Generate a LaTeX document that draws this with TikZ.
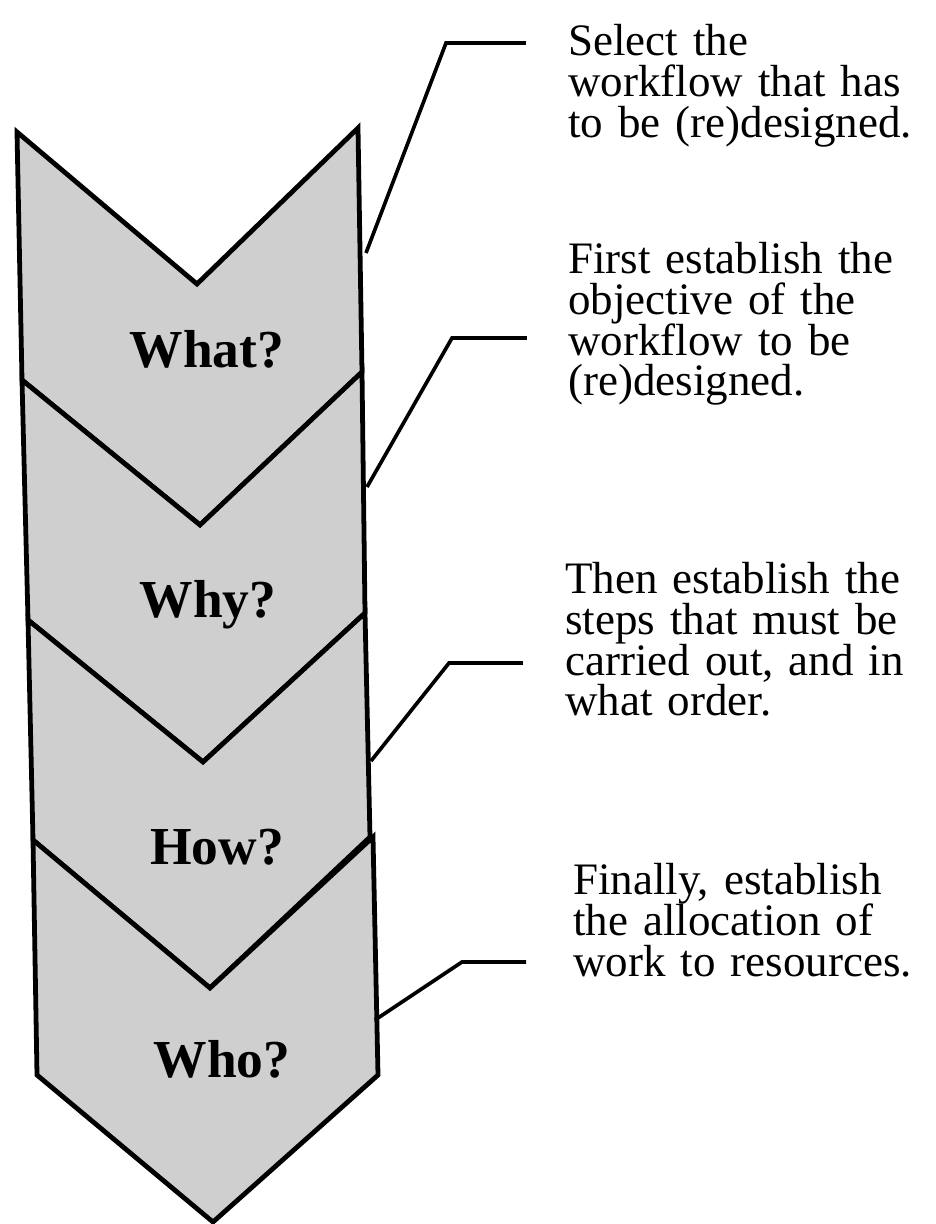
\documentclass[tikz,border=0pt]{standalone}
\usepackage{fontspec}
\setmainfont{Liberation Serif}
\newfontfamily\askfont{Liberation Serif}
\definecolor{ChevGray}{HTML}{CFCFCF}
\newcommand{\spreadline}[1]{\makebox[8.65cm][s]{#1}}
\newcommand{\tightlines}{\lineskiplimit=-100pt\relax}
\tikzset{
  % chevron body
  chev/.style={fill=ChevGray,draw=black,line width=3.4pt,line join=miter},
  % bold question inside a chevron
  ask/.style={font=\askfont\fontsize{38}{40}\selectfont\bfseries,anchor=base,inner sep=0pt},
  % explanation on the right
  note/.style={font=\fontsize{32}{29}\selectfont\tightlines,align=left,
               text width=9.2cm,anchor=north west,inner sep=0pt},
  % leader line
  lead/.style={line width=2.6pt,line join=miter}
}

\begin{document}
\begin{tikzpicture}[x=0.025cm,y=-0.025cm]
  \useasboundingbox (0,0) rectangle (935,1224);

  % chevrons, top to bottom
  \filldraw[chev] (17,132) -- (197,284) -- (358,128) -- (362,372) -- (200,525) -- (22,380) -- cycle;
  \filldraw[chev] (22,380) -- (200,525) -- (362,372) -- (365,613) -- (203,762) -- (28,620) -- cycle;
  \filldraw[chev] (28,620) -- (203,762) -- (365,613) -- (370,837) -- (210,988) -- (33,840) -- cycle;
  \filldraw[chev] (33,840) -- (210,988) -- (373,837) -- (378,1075) -- (213,1222) -- (37,1075) -- cycle;

  \node[ask] (what) at (207,367) {What?};
  \node[ask] (why)  at (208,617) {Why?};
  \node[ask] (how)  at (217,864) {How?};
  \node[ask] (who)  at (222,1077) {Who?};

  % explanations
  \node[note] (selTxt) at (568,24) {Select the\\ workflow that has\\ to be (re)designed.};
  \node[note] (objTxt) at (568,242) {First establish the\\ objective of the\\ workflow to be\\ (re)designed.};
  \node[note] (stpTxt) at (565,562) {Then establish the\\ steps that must be\\ carried out, and in\\ what order.};
  \node[note,text width=8.65cm] (resTxt) at (573,863) {\spreadline{Finally, establish}\\ \spreadline{the allocation of}\\ \spreadline{work to resources.}};

  % leader lines
  \coordinate (e1) at (366,253);  \coordinate (k1) at (446,43);
  \coordinate (e2) at (367,487);  \coordinate (k2) at (452,338);
  \coordinate (e3) at (371,761);  \coordinate (k3) at (449,663);
  \coordinate (e4) at (375,1020); \coordinate (k4) at (462,962);

  \draw[lead] (e1) -- (k1) -- ([xshift=-1.05cm]k1 -| selTxt.west);
  \draw[lead] (e2) -- (k2) -- ([xshift=-1.03cm]k2 -| objTxt.west);
  \draw[lead] (e3) -- (k3) -- ([xshift=-1.05cm]k3 -| stpTxt.west);
  \draw[lead] (e4) -- (k4) -- ([xshift=-1.17cm]k4 -| resTxt.west);
\end{tikzpicture}
\end{document}
